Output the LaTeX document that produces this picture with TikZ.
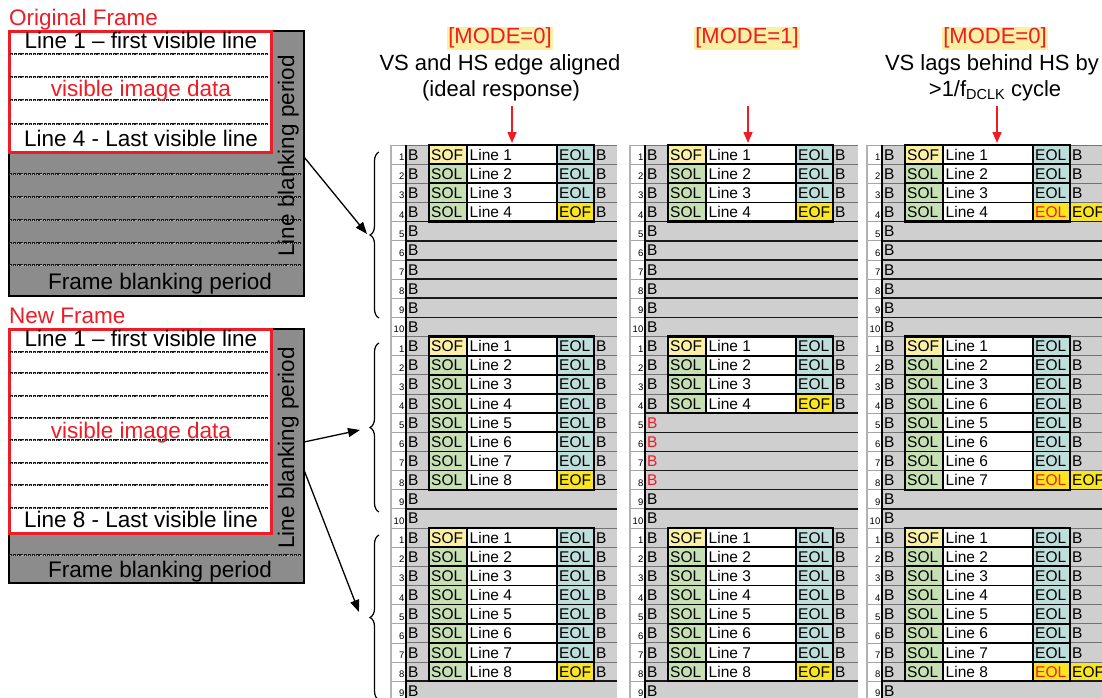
\documentclass[tikz,border=0pt]{standalone}
\usepackage{fontspec}
\setmainfont{Liberation Sans}
\usetikzlibrary{arrows.meta,decorations.pathreplacing}
\definecolor{bgray}{HTML}{CFCFCF}
\definecolor{sofc}{HTML}{FBF0A3}
\definecolor{solc}{HTML}{C6E0B4}
\definecolor{eolc}{HTML}{BEDEDC}
\definecolor{eofc}{HTML}{FBE51F}
\definecolor{fgray}{HTML}{8C8C8C}
\definecolor{myred}{HTML}{EE1C25}
\definecolor{hlc}{HTML}{FAF0A2}
\colorlet{fcSOF}{sofc}
\colorlet{fcSOL}{solc}
\colorlet{fcEOL}{eolc}
\colorlet{fcEOF}{eofc}
\colorlet{fcREOL}{eofc}
\colorlet{fcB}{bgray}
\def\tEOL{EOL}
\def\tEOF{EOF}
\def\tREOL{\textcolor{myred}{EOL}}
\newcounter{cnum}
\def\xRH{19.15}
\def\TW{211}
% data row: X, global row, start, line no, end, last
\newcommand\xDrow[6]{%
  \pgfmathsetmacro\myY{145+(#2-1)*\xRH}%
  \pgfmathsetmacro\myYb{\myY+\xRH}%
  \pgfmathsetmacro\myYt{\myY+15.1}%
  \pgfmathtruncatemacro\myN{mod(#2-1,10)+1}%
  \fill[white] (#1-15,\myY) rectangle (#1,\myYb);
  \fill[bgray] (#1,\myY) rectangle (#1+23,\myYb);
  \fill[fc#3] (#1+23,\myY) rectangle (#1+61,\myYb);
  \fill[white] (#1+61,\myY) rectangle (#1+151,\myYb);
  \fill[fc#5] (#1+151,\myY) rectangle (#1+188,\myYb);
  \fill[fc#6] (#1+188,\myY) rectangle (#1+\TW,\myYb);
  \draw[numsep] (#1-15,\myY) -- (#1,\myY);
  \draw[graysep] (#1,\myY) -- (#1+\TW,\myY);
  \draw[blacksep] (#1+23,\myY) -- (#1+188,\myY);
  \draw[vsep] (#1+61,\myY) -- (#1+61,\myYb);
  \draw[vsep] (#1+151,\myY) -- (#1+151,\myYb);
  \stepcounter{cnum}\node[ntext] (c\arabic{cnum}) at (#1-1.5,\myYb-3.6) {\myN};
  \stepcounter{cnum}\node[ctext] (c\arabic{cnum}) at (#1+2,\myYt) {B};
  \stepcounter{cnum}\node[ctext] (c\arabic{cnum}) at (#1+25,\myYt) {#3};
  \stepcounter{cnum}\node[ctext] (c\arabic{cnum}) at (#1+63.5,\myYt) {Line #4};
  \stepcounter{cnum}\node[ctext] (c\arabic{cnum}) at (#1+153,\myYt) {\csname t#5\endcsname};
  \stepcounter{cnum}\node[ctext] (c\arabic{cnum}) at (#1+190,\myYt) {#6};
}
% blank row: X, global row, text colour
\newcommand\xBrow[3]{%
  \pgfmathsetmacro\myY{145+(#2-1)*\xRH}%
  \pgfmathsetmacro\myYb{\myY+\xRH}%
  \pgfmathsetmacro\myYt{\myY+15.1}%
  \pgfmathtruncatemacro\myN{mod(#2-1,10)+1}%
  \fill[white] (#1-15,\myY) rectangle (#1,\myYb);
  \fill[bgray] (#1,\myY) rectangle (#1+\TW,\myYb);
  \draw[numsep] (#1-15,\myY) -- (#1,\myY);
  \draw[blanksep] (#1,\myY) -- (#1+\TW,\myY);
  \stepcounter{cnum}\node[ntext] (c\arabic{cnum}) at (#1-1.5,\myYb-3.6) {\myN};
  \stepcounter{cnum}\node[ctext,text=#3] (c\arabic{cnum}) at (#1+2,\myYt) {B};
}
% thick box round data: X, first row, last row
\newcommand\xDbox[3]{%
  \pgfmathsetmacro\myY{145+(#2-1)*\xRH}%
  \pgfmathsetmacro\myYb{145+#3*\xRH}%
  \draw[boxln] (#1+23,\myY) rectangle (#1+188,\myYb);
}
\newcommand\xTframe[1]{%
  \draw[numedge] (#1-15,145) -- (#1-15,700);
  \draw[tedge] (#1,145) -- (#1,700);
}
% chain-like dotted line
\newcommand\xDots[3]{% x1, x2, y
  \draw[dotlnA] (#1,#3) -- (#2,#3);
  \draw[dotlnB] (#1,#3) -- (#2,#3);
}
\begin{document}
\begin{tikzpicture}[x=1pt,y=-1pt,
  ctext/.style={inner sep=0pt, anchor=base west, font=\fontsize{15.5}{18}\selectfont},
  ntext/.style={inner sep=0pt, anchor=base east, font=\fontsize{9.5}{10}\selectfont},
  numsep/.style={draw=black!35, line width=0.8pt},
  numedge/.style={draw=black!30, line width=1.6pt},
  graysep/.style={draw=black!55, line width=0.9pt},
  blacksep/.style={draw=black, line width=1.7pt},
  blanksep/.style={draw=black!90, line width=1.5pt},
  vsep/.style={draw=black, line width=1.1pt},
  boxln/.style={draw=black, line width=2.3pt},
  tedge/.style={draw=black, line width=1.8pt},
  oframe/.style={draw=black, line width=2.4pt, fill=fgray, inner sep=0pt, anchor=north west},
  rframe/.style={draw=myred, line width=2.8pt, fill=white, inner sep=0pt, anchor=north west},
  dotlnA/.style={draw=black!90, line width=1.9pt, dash pattern=on 3pt off 0.8pt},
  dotlnB/.style={draw=white!45!gray, line width=0.6pt, dash pattern=on 1.2pt off 2.6pt, dash phase=2.9pt},
  ftext/.style={inner sep=0pt, anchor=base, font=\fontsize{22.5}{27}\selectfont},
  htext/.style={inner sep=0pt, anchor=base, font=\fontsize{22}{27}\selectfont},
  hl/.style={fill=hlc, text=myred, inner sep=1pt, anchor=base, font=\fontsize{22}{27}\selectfont},
  redarrow/.style={draw=myred, line width=1.5pt, -{Triangle[length=11pt,width=9pt]}},
  blackarrow/.style={draw=black, line width=1.3pt, -{Triangle[length=12pt,width=9pt]}},
  bracel/.style={decorate, decoration={brace, amplitude=9pt}, line width=1.2pt}
]
\useasboundingbox (0,0) rectangle (1102,698);
\clip (0,0) rectangle (1102,698);

% ---------------- left: original frame ----------------
\node[oframe, minimum width=295pt, minimum height=265pt] (origF) at (8,30) {};
\node[rframe, minimum width=262pt, minimum height=121pt] (origV) at (8,30) {};
\foreach \yv in {54,77,100,124} {\xDots{10}{268}{\yv}}
\foreach \yv in {174,197,220,243,265} {\xDots{9}{301}{\yv}}
\node[ftext] (o1) at (141,48.5) {Line 1 \textendash{} first visible line};
\node[ftext, text=myred] (o2) at (141,96.5) {visible image data};
\node[ftext] (o3) at (141,146.5) {Line 4 - Last visible line};
\node[ftext] (o4) at (160,289) {Frame blanking period};
\node[ftext, rotate=90] (o5) at (294,156) {Line blanking period};
\node[ftext, anchor=base west, text=myred] (o6) at (9,26) {Original Frame};

% ---------------- left: new frame ----------------
\node[oframe, minimum width=295pt, minimum height=254pt] (newF) at (8,328) {};
\node[rframe, minimum width=262pt, minimum height=204pt] (newV) at (8,328) {};
\foreach \yv in {352,373,396,418,440,463,485,508} {\xDots{10}{268}{\yv}}
\xDots{9}{301}{555}
\node[ftext] (n1) at (141,346) {Line 1 \textendash{} first visible line};
\node[ftext, text=myred] (n2) at (141,438) {visible image data};
\node[ftext] (n3) at (141,527) {Line 8 - Last visible line};
\node[ftext] (n4) at (160,577) {Frame blanking period};
\node[ftext, rotate=90] (n5) at (294,448) {Line blanking period};
\node[ftext, anchor=base west, text=myred] (n6) at (9,323) {New Frame};

% ---------------- headers ----------------
\node[hl] (m1) at (500,44) {[MODE=0]};
\node[htext] (h1a) at (500,71) {VS and HS edge aligned};
\node[htext] (h1b) at (501,97) {(ideal response)};
\node[hl] (m2) at (747,44) {[MODE=1]};
\node[hl] (m3) at (995,44) {[MODE=0]};
\node[htext] (h3a) at (992,71) {VS lags behind HS by};
\node[htext] (h3b) at (995,97) {>1/f\raisebox{-3pt}{\fontsize{14.5}{14}\selectfont DCLK} cycle};
\coordinate (ra1) at (512,106); \coordinate (rb1) at (512,143);
\coordinate (ra2) at (748,106); \coordinate (rb2) at (748,143);
\coordinate (ra3) at (997,106); \coordinate (rb3) at (997,143);
\draw[redarrow] (ra1) -- (rb1);
\draw[redarrow] (ra2) -- (rb2);
\draw[redarrow] (ra3) -- (rb3);

% ---------------- table 1 ----------------
\def\TW{211}
\xDrow{406}{1}{SOF}{1}{EOL}{B}
\foreach \g/\l in {2/2,3/3} {\xDrow{406}{\g}{SOL}{\l}{EOL}{B}}
\xDrow{406}{4}{SOL}{4}{EOF}{B}
\foreach \g in {5,...,10} {\xBrow{406}{\g}{black}}
\xDrow{406}{11}{SOF}{1}{EOL}{B}
\foreach \g/\l in {12/2,13/3,14/4,15/5,16/6,17/7} {\xDrow{406}{\g}{SOL}{\l}{EOL}{B}}
\xDrow{406}{18}{SOL}{8}{EOF}{B}
\foreach \g in {19,20} {\xBrow{406}{\g}{black}}
\xDrow{406}{21}{SOF}{1}{EOL}{B}
\foreach \g/\l in {22/2,23/3,24/4,25/5,26/6,27/7} {\xDrow{406}{\g}{SOL}{\l}{EOL}{B}}
\xDrow{406}{28}{SOL}{8}{EOF}{B}
\xBrow{406}{29}{black}
\xDbox{406}{1}{4}
\xDbox{406}{11}{18}
\xDbox{406}{21}{28}
\xTframe{406}

% ---------------- table 2 ----------------
\def\TW{213}
\xDrow{645}{1}{SOF}{1}{EOL}{B}
\foreach \g/\l in {2/2,3/3} {\xDrow{645}{\g}{SOL}{\l}{EOL}{B}}
\xDrow{645}{4}{SOL}{4}{EOF}{B}
\foreach \g in {5,...,10} {\xBrow{645}{\g}{black}}
\xDrow{645}{11}{SOF}{1}{EOL}{B}
\foreach \g/\l in {12/2,13/3} {\xDrow{645}{\g}{SOL}{\l}{EOL}{B}}
\xDrow{645}{14}{SOL}{4}{EOF}{B}
\foreach \g in {15,...,18} {\xBrow{645}{\g}{myred}}
\foreach \g in {19,20} {\xBrow{645}{\g}{black}}
\xDrow{645}{21}{SOF}{1}{EOL}{B}
\foreach \g/\l in {22/2,23/3,24/4,25/5,26/6,27/7} {\xDrow{645}{\g}{SOL}{\l}{EOL}{B}}
\xDrow{645}{28}{SOL}{8}{EOF}{B}
\xBrow{645}{29}{black}
\xDbox{645}{1}{4}
\xDbox{645}{11}{14}
\xDbox{645}{21}{28}
\xTframe{645}

% ---------------- table 3 ----------------
\def\TW{240}
\xDrow{882}{1}{SOF}{1}{EOL}{B}
\foreach \g/\l in {2/2,3/3} {\xDrow{882}{\g}{SOL}{\l}{EOL}{B}}
\xDrow{882}{4}{SOL}{4}{REOL}{EOF}
\foreach \g in {5,...,10} {\xBrow{882}{\g}{black}}
\xDrow{882}{11}{SOF}{1}{EOL}{B}
\foreach \g/\l in {12/2,13/3,14/6,15/5,16/6,17/6} {\xDrow{882}{\g}{SOL}{\l}{EOL}{B}}
\xDrow{882}{18}{SOL}{7}{REOL}{EOF}
\foreach \g in {19,20} {\xBrow{882}{\g}{black}}
\xDrow{882}{21}{SOF}{1}{EOL}{B}
\foreach \g/\l in {22/2,23/3,24/4,25/5,26/6,27/7} {\xDrow{882}{\g}{SOL}{\l}{EOL}{B}}
\xDrow{882}{28}{SOL}{8}{REOL}{EOF}
\xBrow{882}{29}{black}
\xDbox{882}{1}{4}
\xDbox{882}{11}{18}
\xDbox{882}{21}{28}
\xTframe{882}

% ---------------- braces and arrows ----------------
\draw[bracel] (379,318) -- (379,152);
\draw[bracel] (379,512) -- (379,343);
\draw[bracel] (379,700) -- (379,535);
\coordinate (s1) at (304,157); \coordinate (e1) at (367,234);
\coordinate (s2) at (304,442); \coordinate (e2) at (360,430);
\coordinate (s3) at (304,470); \coordinate (e3) at (359,612);
\draw[blackarrow] (s1) -- (e1);
\draw[blackarrow] (s2) -- (e2);
\draw[blackarrow] (s3) -- (e3);
\end{tikzpicture}
\end{document}
